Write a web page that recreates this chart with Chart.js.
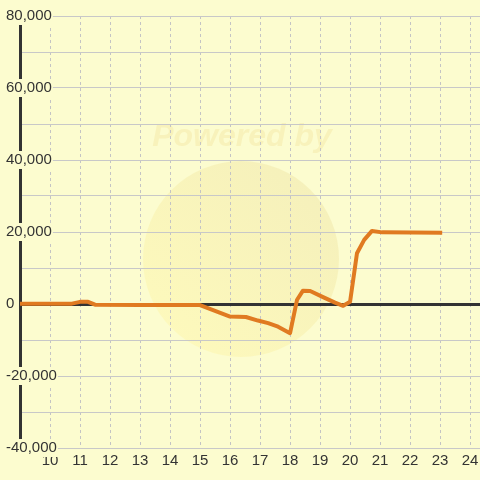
<!DOCTYPE html>
<html>
<head>
<meta charset="utf-8">
<script src="https://cdn.jsdelivr.net/npm/chart.js@4.4.0/dist/chart.umd.min.js"></script>
<style>
  html, body { margin: 0; padding: 0; background: #fcfccf; }
  #wrap { width: 480px; height: 480px; }
</style>
</head>
<body>
<div id="wrap"><canvas id="chart" width="480" height="480"></canvas></div>
<script>
// hours on the x axis, running balance on the y axis
const hours = [9, 10.73, 11, 11.27, 11.5, 13, 15, 16, 16.53, 16.93, 17.27, 17.6, 18, 18.23, 18.43, 18.67, 19.1, 19.5, 19.77, 20, 20.23, 20.47, 20.73, 21.07, 23.07];
const balance = [100, 100, 600, 600, -200, -300, -300, -3500, -3600, -4600, -5300, -6300, -8100, 1100, 3700, 3600, 1900, 400, -500, 600, 14100, 17800, 20300, 19900, 19800];

const hourLabels = [10, 11, 12, 13, 14, 15, 16, 17, 18, 19, 20, 21, 22, 23, 24];
const balanceLabels = [-40000, -20000, 0, 20000, 40000, 60000, 80000];

const bg = "#fcfccf";
const textColor = "#333";
const family = "'Liberation Sans', Arial, sans-serif";

const points = hours.map((h, i) => ({ x: h, y: balance[i] }));

// faint "Powered by" logo behind the grid
const watermark = {
  id: "watermark",
  beforeDraw(chart) {
    const ctx = chart.ctx;
    ctx.save();
    const g = ctx.createLinearGradient(170, 340, 320, 180);
    g.addColorStop(0, "#fdf9bc");
    g.addColorStop(1, "#f5f0bb");
    ctx.fillStyle = g;
    ctx.beginPath();
    ctx.arc(241, 259, 98, 0, Math.PI * 2);
    ctx.fill();
    ctx.font = "italic bold 32px " + family;
    ctx.fillStyle = "#f8f2bb";
    ctx.textAlign = "center";
    ctx.fillText("Powered by", 242, 146);
    ctx.restore();
  }
};

const hasLabel = ctx => !!ctx.tick && balanceLabels.includes(ctx.tick.value);
const isZero = ctx => !!ctx.tick && ctx.tick.value === 0;

new Chart(document.getElementById("chart"), {
  type: "line",
  data: {
    datasets: [{
      data: points,
      borderColor: "#e07a21",
      borderWidth: 4,
      borderJoinStyle: "round",
      pointRadius: 0,
      tension: 0,
      fill: false
    }]
  },
  options: {
    responsive: false,
    animation: false,
    devicePixelRatio: 1,
    layout: { padding: { top: 16, left: 0, right: 0, bottom: 0 } },
    plugins: { legend: { display: false }, tooltip: { enabled: false } },
    scales: {
      x: {
        type: "linear",
        min: 9,
        max: 24.33,
        afterFit(axis) { axis.height = 32; },
        ticks: {
          stepSize: 1,
          includeBounds: false,
          autoSkip: false,
          maxRotation: 0,
          padding: 0,
          color: textColor,
          font: { family: family, size: 15, lineHeight: 1.7 },
          callback: v => hourLabels.includes(v) ? String(v) : ""
        },
        grid: { color: "#c4c4c4", drawTicks: false },
        border: { display: false, dash: [3, 3] }
      },
      y: {
        type: "linear",
        min: -40000,
        max: 80000,
        afterFit(axis) { axis.width = 20; },
        ticks: {
          stepSize: 10000,
          mirror: true,
          crossAlign: "near",
          padding: -14,
          color: textColor,
          font: { family: family, size: 15 },
          callback: v => balanceLabels.includes(v) ? v.toLocaleString("en-US") : "",
          showLabelBackdrop: hasLabel,
          backdropColor: bg,
          backdropPadding: { top: 0, bottom: 0, left: 2, right: 1 }
        },
        grid: {
          color: ctx => isZero(ctx) ? "#333" : "#c8c8c8",
          lineWidth: ctx => isZero(ctx) ? 3 : 1,
          drawTicks: false
        },
        border: { color: "#333", width: 3 }
      }
    }
  },
  plugins: [watermark]
});
</script>
</body>
</html>
